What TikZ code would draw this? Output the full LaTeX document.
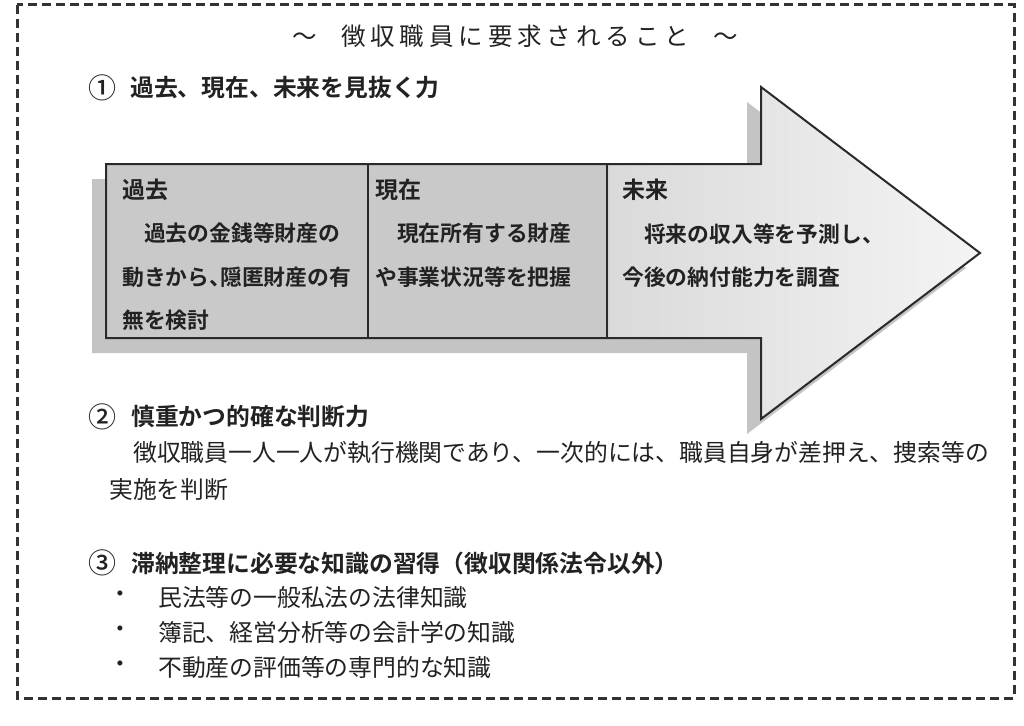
\documentclass[tikz,border=0pt]{standalone}
\usepackage{fontspec}
\setmainfont[BoldFont={Noto Sans CJK JP Bold}]{Noto Sans CJK JP}
\newfontfamily\mittel{Noto Sans CJK JP Medium}
\usetikzlibrary{shapes}

\definecolor{boxgrau}{HTML}{C9C9C9}
\definecolor{zukunftgrau}{HTML}{DADADA}
\definecolor{spitzgrau}{HTML}{F4F4F4}
\pgfdeclarehorizontalshading{pfeilfuellung}{100bp}{color(0bp)=(boxgrau); color(25bp)=(boxgrau); color(53.6bp)=(boxgrau); color(53.8bp)=(zukunftgrau); color(75bp)=(spitzgrau); color(100bp)=(spitzgrau)}

\begin{document}
\begin{tikzpicture}[x=1pt,y=-1pt,
	rand/.style={draw=rahmen,line width=3pt,dash pattern=on 9pt off 5pt},
	pfeil/.style={draw=linie,line width=2pt,line join=miter},
	titel/.style={inner sep=0pt,text=schrift,font=\addfontfeature{LetterSpace=20}\fontsize{24.5pt}{28pt}\selectfont},
	nummer/.style={inner sep=0pt,text=schrift,font=\mittel\fontsize{28pt}{30pt}\selectfont},
	kopf/.style={anchor=west,inner sep=0pt,text=schrift,font=\bfseries\fontsize{23.8pt}{28pt}\selectfont},
	feldkopf/.style={anchor=west,inner sep=0pt,text=schrift,font=\bfseries\fontsize{23pt}{28pt}\selectfont},
	feld/.style={anchor=west,inner sep=0pt,text=schrift,font=\bfseries\fontsize{21.8pt}{26pt}\selectfont},
	text1/.style={anchor=west,inner sep=0pt,text=schrift,font=\fontsize{23.8pt}{28pt}\selectfont},
	punkt/.style={inner sep=0pt,text=schrift,font=\fontsize{23.8pt}{28pt}\selectfont}]
			\definecolor{rahmen}{HTML}{333333}
			\definecolor{linie}{HTML}{2A2A2A}
			\definecolor{schatten}{HTML}{C4C4C4}
			\definecolor{schrift}{HTML}{222222}
			\useasboundingbox (0,0) rectangle (1024,725);
			\fill[white] (0,0) rectangle (1024,725);
			% Rahmen
			\draw[rand] (17,5) rectangle (1014,698);
			% Titel
			\node[titel] (titel) at (515,36) {～\hspace{1em}徴収職員に要求されること\hspace{1em}～};
			% Punkt 1
			\node[nummer] (nr1) at (102,88) {①};
			\node[kopf] (kopf1) at (130,88) {過去、現在、未来を見抜く力};
			% Schatten
			\fill[schatten,shift={(-14,15)}] (106,164) -- (761,164) -- (761,87) -- (980,253) -- (761,419) -- (761,338) -- (106,338) -- cycle;
			% Pfeil
			\shadedraw[pfeil,shading=pfeilfuellung] (106,164) -- (761,164) -- (761,87) -- (980,253) -- (761,419) -- (761,338) -- (106,338) -- cycle;
			% Trennlinien
			\draw[pfeil] (368,164) -- (368,338);
			\draw[pfeil] (607,164) -- (607,338);
			% Vergangenheit
			\node[feldkopf] (kako) at (122,190) {過去};
			\node[feld] (kako1) at (122,233) {　過去の金銭等財産の};
			\node[feld] (kako2) at (122,277) {動きから、\hspace{-.5em}隠匿財産の有};
			\node[feld] (kako3) at (122,320) {無を検討};
			% Gegenwart
			\node[feldkopf] (genzai) at (375,190) {現在};
			\node[feld] (genzai1) at (375,233) {　現在所有する財産};
			\node[feld] (genzai2) at (375,277) {や事業状況等を把握};
			% Zukunft
			\node[feldkopf] (mirai) at (622,190) {未来};
			\node[feld] (mirai1) at (622,234) {　将来の収入等を予測し、};
			\node[feld] (mirai2) at (622,277) {今後の納付能力を調査};
			% Punkt 2
			\node[nummer] (nr2) at (102,417) {②};
			\node[kopf] (kopf2) at (131,417) {慎重かつ的確な判断力};
			\node[text1] (satz1) at (133,453) {徴収職員一人一人が執行機関であり、一次的には、職員自身が差押え、捜索等の};
			\node[text1] (satz2) at (109,490) {実施を判断};
			% Punkt 3
			\node[nummer] (nr3) at (102,563) {③};
			\node[kopf] (kopf3) at (131,563) {滞納整理に必要な知識の習得（徴収関係法令以外）};
			\node[punkt] (dot1) at (120,597) {・};
			\node[text1] (wissen1) at (158,597) {民法等の一般私法の法律知識};
			\node[punkt] (dot2) at (120,632) {・};
			\node[text1] (wissen2) at (158,632) {簿記、経営分析等の会計学の知識};
			\node[punkt] (dot3) at (120,667) {・};
			\node[text1] (wissen3) at (158,667) {不動産の評価等の専門的な知識};
			
			\end{tikzpicture}
\end{document}
